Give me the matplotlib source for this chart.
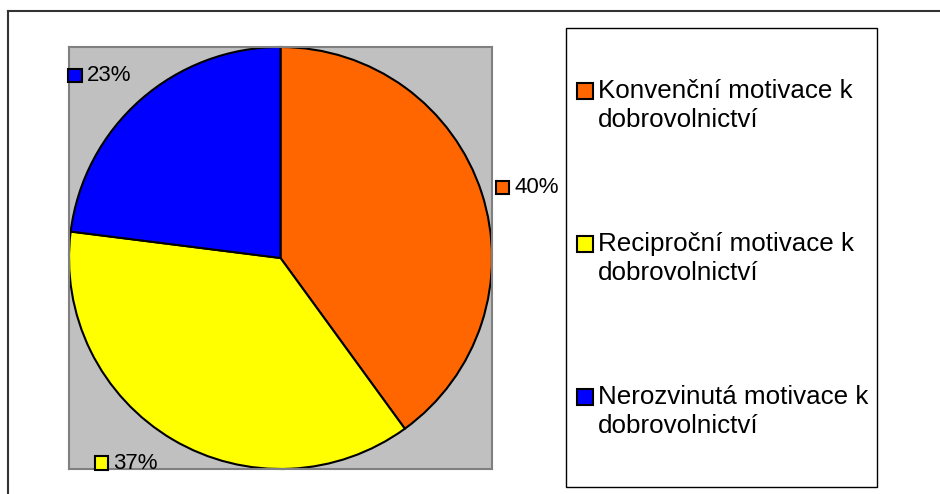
import numpy as np
import matplotlib
matplotlib.use("Agg")
import matplotlib.pyplot as plt
from matplotlib.patches import Rectangle
from matplotlib.lines import Line2D
from matplotlib.legend_handler import HandlerPatch
from matplotlib.offsetbox import AnnotationBbox, DrawingArea, TextArea, HPacker

plt.rcParams['font.family'] = ['Liberation Sans', 'DejaVu Sans']

# data
categories = ['Konvenční motivace k\ndobrovolnictví',
              'Reciproční motivace k\ndobrovolnictví',
              'Nerozvinutá motivace k\ndobrovolnictví']
shares = [40, 37, 23]
pct_labels = ['40%', '37%', '23%']
colors = ['#FF6600', '#FFFF00', '#0000FF']

W, H = 940, 494
fig = plt.figure(figsize=(W / 100, H / 100), dpi=100)
fig.patch.set_facecolor('white')

# outer chart frame (top and left edges only are visible)
fig.add_artist(Line2D([8 / W, 1.0], [1 - 11 / H, 1 - 11 / H], color='#333333', lw=1.5))
fig.add_artist(Line2D([8 / W, 8 / W], [1 - 11 / H, 0.0], color='#333333', lw=1.5))

# plot area
ax = fig.add_axes([69 / W, 1 - 469 / H, 423 / W, 422 / H])
ax.set_facecolor('#C0C0C0')

wedges, _ = ax.pie(shares, colors=colors, startangle=90, counterclock=False,
                   wedgeprops=dict(edgecolor='black', linewidth=1.5))
ax.set_aspect('auto')
ax.set_xlim(-1.0, 1.0)
ax.set_ylim(-1.0, 1.0)
ax.set_frame_on(True)
ax.set_xticks([])
ax.set_yticks([])
for s in ax.spines.values():
    s.set_color('#808080')
    s.set_linewidth(1.5)

# data labels with small colour key, placed near each wedge's mid angle
# (small angular nudges mimic the spreadsheet's label placement)
label_nudge = [-2.0, -6.3, 3.3]
for w, lab, c, nd in zip(wedges, pct_labels, colors, label_nudge):
    mid = np.deg2rad((w.theta1 + w.theta2) / 2 + nd)
    r = 1.215
    da = DrawingArea(9.5, 9.5, 0, 0)
    da.add_artist(Rectangle((0, 0), 9.5, 9.5, facecolor=c, edgecolor='black', lw=1.5))
    ta = TextArea(lab, textprops=dict(fontsize=16, color='black'))
    box = HPacker(children=[da, ta], align='center', pad=0, sep=3.6)
    ab = AnnotationBbox(box, (r * np.cos(mid), r * np.sin(mid)), xycoords='data',
                        frameon=False, box_alignment=(0.5, 0.5), pad=0,
                        annotation_clip=False)
    ax.add_artist(ab)

# legend frame
fig.add_artist(Rectangle((566 / W, 1 - 487 / H), (877 - 566) / W, (487 - 28) / H,
                         transform=fig.transFigure, facecolor='white',
                         edgecolor='black', lw=1.0, zorder=0))


def top_square(legend, orig_handle, xdescent, ydescent, width, height, fontsize):
    # put the key on the first line of the two-line label
    return Rectangle((-xdescent, -ydescent + 0.58 * fontsize), width, height)


leg = fig.legend(wedges, categories, loc='upper left',
                 bbox_to_anchor=(577 / W, 1 - 79 / H), frameon=False,
                 fontsize=18.7, borderpad=0, borderaxespad=0,
                 handlelength=0.6, handleheight=0.55, handletextpad=0.22,
                 labelspacing=3.84,
                 handler_map={w: HandlerPatch(patch_func=top_square) for w in wedges})
for t in leg.get_texts():
    t.set_linespacing(1.28)

fig.savefig('out.png', dpi=100)
